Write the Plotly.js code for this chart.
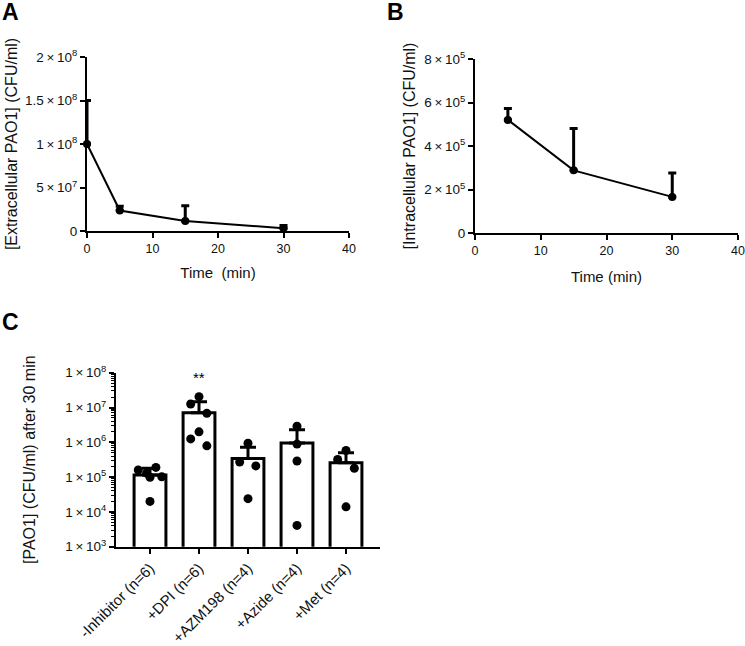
<!DOCTYPE html>
<html>
<head>
<meta charset="utf-8">
<script src="https://cdn.plot.ly/plotly-3.0.1.min.js"></script>
<style>html,body{margin:0;padding:0;background:#fff}#plot{width:745px;height:646px}</style>
</head>
<body>
<div id="plot"></div>
<script>
// Panel A: extracellular PAO1
const timeA = [0, 5, 15, 30];
const extracellular = [1.0e8, 2.35e7, 1.15e7, 3.2e6];
const extracellularErr = [5.0e7, 5.0e6, 1.75e7, 3.0e6];

// Panel B: intracellular PAO1
const timeB = [5, 15, 30];
const intracellular = [5.2e5, 2.88e5, 1.66e5];
const intracellularErr = [5.2e4, 1.92e5, 1.1e5];

// Panel C: PAO1 after 30 min, by inhibitor
const groups = ['-Inhibitor (n=6)', '+DPI (n=6)', '+AZM198 (n=4)', '+Azide (n=4)', '+Met (n=4)'];
const groupMeans = [1.15e5, 7.1e6, 3.4e5, 9.6e5, 2.6e5];
const groupErr = [6.5e4, 7.6e6, 3.8e5, 1.35e6, 2.4e5];
const dotsInhibitor = [1.6e5, 1.3e5, 9.9e4, 1.9e5, 1.02e5, 2.0e4];
const dotsDPI = [2.05e7, 1.26e7, 6.8e6, 2.0e6, 1.25e6, 7.9e5];
const dotsAZM = [9.4e5, 2.7e5, 2.1e5, 2.4e4];
const dotsAzide = [2.9e6, 8.9e5, 2.9e5, 4.1e3];
const dotsMet = [5.8e5, 3.2e5, 1.8e5, 1.4e4];

const T = '\u2009×\u2009';
const yTicksA = [0, 5e7, 1e8, 1.5e8, 2e8];
const yTickTextA = ['0', '5' + T + '10<sup>7</sup>', '1' + T + '10<sup>8</sup>', '1.5' + T + '10<sup>8</sup>', '2' + T + '10<sup>8</sup>'];
const yTicksB = [0, 2e5, 4e5, 6e5, 8e5];
const yTickTextB = ['0', '2' + T + '10<sup>5</sup>', '4' + T + '10<sup>5</sup>', '6' + T + '10<sup>5</sup>', '8' + T + '10<sup>5</sup>'];
const yTicksC = [1e3, 1e4, 1e5, 1e6, 1e7, 1e8];
const yTickTextC = ['1' + T + '10<sup>3</sup>', '1' + T + '10<sup>4</sup>', '1' + T + '10<sup>5</sup>', '1' + T + '10<sup>6</sup>', '1' + T + '10<sup>7</sup>', '1' + T + '10<sup>8</sup>'];

const FONT = 'Arial, "Liberation Sans", sans-serif';
const W = 745, H = 646;
const px = v => v / W;
const py = v => 1 - v / H;

// horizontal spread of dots within each bar (category units)
const dotSets = [dotsInhibitor, dotsDPI, dotsAZM, dotsAzide, dotsMet];
const offsets = [
  [-0.24, -0.07, 0, 0.12, 0.24, 0],
  [0, -0.17, 0.16, 0, -0.17, 0.16],
  [0, -0.17, 0.16, 0],
  [0, 0, 0, 0],
  [0, -0.17, 0.17, 0]
];
const dotX = [], dotY = [];
dotSets.forEach((set, i) => set.forEach((v, j) => { dotX.push(i + offsets[i][j]); dotY.push(v); }));

const lineStyle = {color: 'black', width: 2};
const errStyle = {type: 'data', symmetric: false, visible: true, color: 'black', thickness: 3, width: 4};

const traces = [
  {x: timeA, y: extracellular, xaxis: 'x', yaxis: 'y', mode: 'lines+markers', cliponaxis: false,
   line: lineStyle, marker: {color: 'black', size: 8},
   error_y: Object.assign({}, errStyle, {array: extracellularErr, arrayminus: extracellularErr.map(() => 0)})},
  {x: timeB, y: intracellular, xaxis: 'x2', yaxis: 'y2', mode: 'lines+markers', cliponaxis: false,
   line: lineStyle, marker: {color: 'black', size: 8},
   error_y: Object.assign({}, errStyle, {array: intracellularErr, arrayminus: intracellularErr.map(() => 0)})},
  {type: 'bar', x: groups.map((g, i) => i), y: groupMeans, xaxis: 'x3', yaxis: 'y3', width: 0.65,
   marker: {color: 'white', line: {color: 'black', width: 3}},
   error_y: Object.assign({}, errStyle, {array: groupErr, arrayminus: groupErr.map(() => 0), width: 8})},
  {type: 'scatter', mode: 'markers', x: dotX, y: dotY, xaxis: 'x3', yaxis: 'y3', cliponaxis: false,
   marker: {color: 'black', size: 9}}
];

const axisBase = {
  showline: true, linecolor: 'black', linewidth: 2, ticks: 'outside', ticklen: 5, tickwidth: 2,
  tickcolor: 'black', showgrid: false, zeroline: false, fixedrange: true,
  tickfont: {family: FONT, size: 13.5, color: '#111'}
};
const xTickFont = {family: FONT, size: 12.5, color: '#111'};

const layout = {
  width: W, height: H, margin: {l: 0, r: 0, t: 0, b: 0},
  paper_bgcolor: 'white', plot_bgcolor: 'white', showlegend: false,
  font: {family: FONT, color: '#111'},
  xaxis: Object.assign({}, axisBase, {domain: [px(87), px(349)], range: [0, 40], tickvals: [0, 10, 20, 30, 40], anchor: 'y',
    tickfont: xTickFont, title: {text: 'Time  (min)', font: {family: FONT, size: 15}, standoff: 12}}),
  yaxis: Object.assign({}, axisBase, {domain: [py(231), py(57)], range: [0, 2e8], tickvals: yTicksA, ticktext: yTickTextA, anchor: 'x',
    title: {text: '[Extracellular PAO1] (CFU/ml)', font: {family: FONT, size: 16}, standoff: 3}}),
  xaxis2: Object.assign({}, axisBase, {domain: [px(475), px(738)], range: [0, 40], tickvals: [0, 10, 20, 30, 40], anchor: 'y2',
    tickfont: xTickFont, title: {text: 'Time (min)', font: {family: FONT, size: 15}, standoff: 14}}),
  yaxis2: Object.assign({}, axisBase, {domain: [py(233), py(59)], range: [0, 8e5], tickvals: yTicksB, ticktext: yTickTextB, anchor: 'x2',
    title: {text: '[Intracellular PAO1] (CFU/ml)', font: {family: FONT, size: 16}, standoff: 5}}),
  xaxis3: Object.assign({}, axisBase, {domain: [px(116), px(380)], range: [-0.694, 4.694], tickvals: [0, 1, 2, 3, 4], ticktext: groups,
    tickangle: -45, anchor: 'y3', tickfont: {family: FONT, size: 15, color: '#111'}}),
  yaxis3: Object.assign({}, axisBase, {domain: [py(546.7), py(372.7)], type: 'log', range: [3, 8], tickvals: yTicksC, ticktext: yTickTextC,
    anchor: 'x3', minor: {ticks: 'outside', ticklen: 3, tickwidth: 1, tickcolor: 'black', dtick: 'D1', showgrid: false},
    title: {text: '[PAO1] (CFU/ml) after 30 min', font: {family: FONT, size: 16}, standoff: 26}}),
  annotations: [
    {text: '<b>A</b>', xref: 'paper', yref: 'paper', x: px(0), y: py(-3), xanchor: 'left', yanchor: 'top', showarrow: false, font: {family: FONT, size: 23, color: 'black'}},
    {text: '<b>B</b>', xref: 'paper', yref: 'paper', x: px(385), y: py(-3), xanchor: 'left', yanchor: 'top', showarrow: false, font: {family: FONT, size: 23, color: 'black'}},
    {text: '<b>C</b>', xref: 'paper', yref: 'paper', x: px(0), y: py(307), xanchor: 'left', yanchor: 'top', showarrow: false, font: {family: FONT, size: 23, color: 'black'}},
    {text: '**', xref: 'x3', yref: 'y3', x: 1, y: 7.85, showarrow: false, font: {family: FONT, size: 15, color: 'black'}}
  ]
};

Plotly.newPlot('plot', traces, layout, {displayModeBar: false, staticPlot: true});
</script>
</body>
</html>
